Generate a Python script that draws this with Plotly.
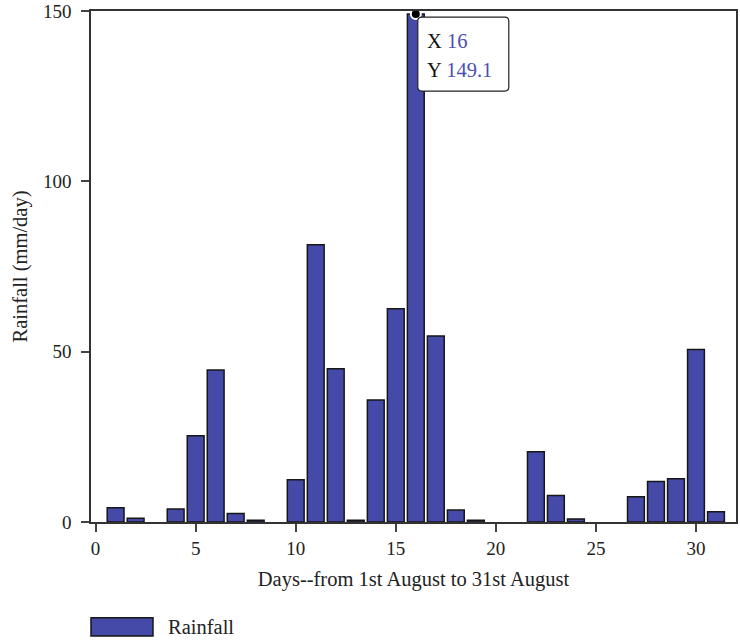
import plotly.graph_objects as go

days = list(range(1, 32))
rainfall = [4.2, 1.1, 0.0, 3.8, 25.3, 44.6, 2.5, 0.5, 0.0, 12.4,
            81.4, 45.0, 0.5, 35.8, 62.6, 149.1, 54.6, 3.5, 0.5, 0.0,
            0.0, 20.6, 7.8, 0.9, 0.0, 0.0, 7.4, 11.9, 12.7, 50.6, 3.0]
x_ticks = [0, 5, 10, 15, 20, 25, 30]
y_ticks = [0, 50, 100, 150]
hl_day = 16
hl_val = 149.1

FONT = "Liberation Serif"
BAR = "rgb(69,74,168)"
VAL = "#4b50b0"
TXT = 20.5

fig = go.Figure()
fig.add_trace(go.Bar(
    x=days, y=rainfall, name="Rainfall", width=0.84,
    marker=dict(color=BAR, line=dict(color="#161616",
                                     width=[1.5 if v > 0 else 0 for v in rainfall])),
    showlegend=False, hoverinfo="skip"))
fig.add_trace(go.Scatter(
    x=[hl_day], y=[hl_val], mode="markers",
    marker=dict(size=10, color="black", line=dict(color="white", width=2)),
    showlegend=False, cliponaxis=False, hoverinfo="skip"))

axis_common = dict(showline=True, linecolor="#333333", linewidth=1.5, mirror=True,
                   ticks="outside", ticklen=8, tickcolor="#444444", tickwidth=1.5,
                   showgrid=False, zeroline=False, automargin=False,
                   tickfont=dict(family=FONT, size=19, color="#222222"))

fig.update_xaxes(range=[-0.23, 32.0], tickvals=x_ticks,
                 title=dict(text="Days--from 1st August to 31st August",
                            font=dict(family=FONT, size=TXT, color="#222222"), standoff=14),
                 **axis_common)
fig.update_yaxes(range=[0, 150], tickvals=y_ticks, ticklabelstandoff=6,
                 title=dict(text="Rainfall (mm/day)",
                            font=dict(family=FONT, size=TXT, color="#222222"), standoff=10),
                 **axis_common)

# tooltip box (rounded rectangle, pixel-sized around the highlighted point)
fig.add_shape(type="path", xref="x", yref="y", xsizemode="pixel", ysizemode="pixel",
              xanchor=hl_day, yanchor=hl_val,
              path="M 6,-3 L 89,-3 Q 93,-3 93,-7 L 93,-73 Q 93,-77 89,-77 L 6,-77 Q 2,-77 2,-73 L 2,-7 Q 2,-3 6,-3 Z",
              line=dict(color="#222222", width=1.2), fillcolor="white", layer="above")
fig.add_annotation(x=hl_day, y=hl_val, xref="x", yref="y", showarrow=False,
                   text=f"X <span style='color:{VAL}'>{hl_day}</span>",
                   xanchor="left", yanchor="middle", xshift=9, yshift=-27,
                   font=dict(family=FONT, size=TXT, color="#111111"))
fig.add_annotation(x=hl_day, y=hl_val, xref="x", yref="y", showarrow=False,
                   text=f"Y <span style='color:{VAL}'>{hl_val}</span>",
                   xanchor="left", yanchor="middle", xshift=9, yshift=-56,
                   font=dict(family=FONT, size=TXT, color="#111111"))

# legend
fig.add_shape(type="rect", xref="paper", yref="paper",
              x0=0, x1=0.0961, y0=-0.2231, y1=-0.1873,
              line=dict(color="#161616", width=1.5), fillcolor=BAR)
fig.add_annotation(x=0.1163, y=-0.2055, xref="paper", yref="paper", showarrow=False,
                   text="Rainfall", xanchor="left", yanchor="middle",
                   font=dict(family=FONT, size=TXT, color="#222222"))

fig.update_layout(width=740, height=641,
                  margin=dict(l=91, r=4, t=11, b=119, autoexpand=False),
                  plot_bgcolor="white", paper_bgcolor="white",
                  hovermode=False, bargap=0.16)

fig.write_html("out.html", config={"displayModeBar": False},
               post_script="document.body.style.margin='0';document.body.style.overflow='hidden';")
